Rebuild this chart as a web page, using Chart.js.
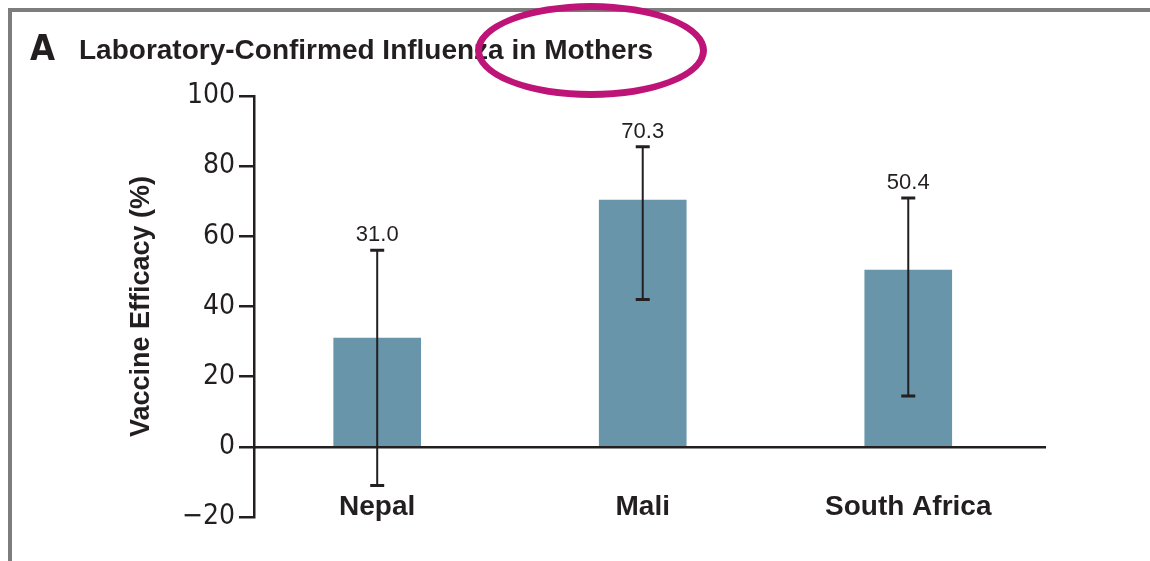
<!DOCTYPE html>
<html>
<head>
<meta charset="utf-8">
<script src="https://cdn.jsdelivr.net/npm/chart.js@4.4.1/dist/chart.umd.min.js"></script>
<style>
  body { margin: 0; background: #fff; }
  #wrap { position: relative; width: 1150px; height: 561px; overflow: hidden; }
  #frame { position: absolute; left: 8px; top: 8px; width: 1200px; height: 600px;
           border-top: 4px solid #7d7d7d; border-left: 4px solid #7d7d7d; }
  .ttl { position: absolute; color: #231f20; font-weight: bold; white-space: nowrap; line-height: 1; }
  #panel { left: 30px; top: 27px; font: bold 36px "Liberation Sans Narrow", "DejaVu Sans Condensed", sans-serif; }
  #title { left: 79px; top: 34px; font: bold 28px "Liberation Sans", Arial, sans-serif; }
  #ring { position: absolute; left: 475px; top: 3px; width: 218px; height: 81px;
          border: 7px solid #be1477; border-radius: 50%; }
  #chart-box { position: absolute; left: 0; top: 0; width: 1150px; height: 561px; }
</style>
</head>
<body>
<div id="wrap">
  <div id="frame"></div>
  <div id="chart-box"><canvas id="chart"></canvas></div>
  <div class="ttl" id="panel">A</div>
  <div class="ttl" id="title">Laboratory-Confirmed Influenza in Mothers</div>
  <div id="ring"></div>
</div>
<script>
//Countries and vaccine efficacy with 95% CI
const categories = ["Nepal", "Mali", "South Africa"];
const efficacy = [31.0, 70.3, 50.4];
const ciLower = [-11.0, 42.0, 14.5];
const ciUpper = [56.0, 85.5, 70.9];
const yTicks = [-20, 0, 20, 40, 60, 80, 100];

const ink = "#231f20";
const barColor = "#6895aa";

//Draw error bars and value labels on top of the bars
const errorBars = {
  id: "errorBars",
  afterDatasetsDraw(chart) {
    const { ctx, scales: { x, y } } = chart;
    ctx.save();
    ctx.strokeStyle = ink;
    ctx.fillStyle = ink;
    categories.forEach((c, i) => {
      const px = x.getPixelForValue(i);
      const top = y.getPixelForValue(ciUpper[i]);
      const bot = y.getPixelForValue(ciLower[i]);
      ctx.lineWidth = 2;
      ctx.beginPath();
      ctx.moveTo(px, top);
      ctx.lineTo(px, bot);
      ctx.stroke();
      ctx.lineWidth = 3;
      ctx.beginPath();
      ctx.moveTo(px - 7, top);
      ctx.lineTo(px + 7, top);
      ctx.moveTo(px - 7, bot);
      ctx.lineTo(px + 7, bot);
      ctx.stroke();
      ctx.font = '22px "Liberation Sans", Arial, sans-serif';
      ctx.textAlign = "center";
      ctx.textBaseline = "alphabetic";
      ctx.fillText(efficacy[i].toFixed(1), px, top - 9);
    });
    ctx.restore();
  },
};

new Chart(document.getElementById("chart"), {
  type: "bar",
  plugins: [errorBars],
  data: {
    datasets: [
      {
        data: categories.map((c, i) => ({ x: i, y: efficacy[i] })),
        backgroundColor: barColor,
        borderWidth: 0,
        barThickness: 87,
      },
    ],
  },
  options: {
    responsive: true,
    maintainAspectRatio: false,
    animation: false,
    layout: { padding: { left: 0, top: 96, right: 105, bottom: 44 } },
    plugins: { legend: { display: false }, tooltip: { enabled: false } },
    scales: {
      x: {
        type: "linear",
        position: { y: 0 },
        min: -0.464,
        max: 2.515,
        offset: false,
        z: 1,
        afterBuildTicks: (s) => { s.ticks = categories.map((c, i) => ({ value: i })); },
        ticks: {
          callback: (v) => categories[v],
          color: ink,
          font: { family: '"Liberation Sans", Arial, sans-serif', size: 28, weight: "bold" },
          padding: 44,
          maxRotation: 0,
          autoSkip: false,
        },
        grid: { display: false, drawTicks: false, offset: false },
        border: { display: true, color: ink, width: 2.5 },
      },
      y: {
        min: -20,
        max: 100,
        afterBuildTicks: (s) => { s.ticks = yTicks.map((v) => ({ value: v })); },
        afterFit: (s) => { s.width = 254; },
        ticks: {
          callback: (v) => (v < 0 ? "\u2212" + Math.abs(v) : v),
          color: ink,
          font: { family: '"Liberation Sans Narrow", "DejaVu Sans Condensed", sans-serif', size: 28 },
          padding: 4,
        },
        grid: { drawOnChartArea: false, drawTicks: true, tickLength: 15, color: ink, lineWidth: 2.5 },
        border: { display: true, color: ink, width: 2.5 },
        title: {
          display: true,
          text: "Vaccine Efficacy (%)",
          color: ink,
          font: { family: '"Liberation Sans", Arial, sans-serif', size: 27, weight: "bold" },
          padding: { top: 125, bottom: 0 },
        },
      },
    },
  },
});
</script>
</body>
</html>
